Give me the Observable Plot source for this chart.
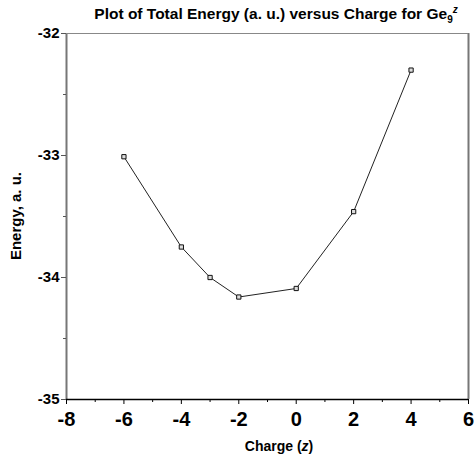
<!DOCTYPE html>
<html>
<head>
<meta charset="utf-8">
<script src="https://cdn.jsdelivr.net/npm/d3@7"></script>
<script src="https://cdn.jsdelivr.net/npm/@observablehq/plot@0.6"></script>
<style>
  body { margin: 0; background: #fff; font-family: "Liberation Sans", Arial, sans-serif; }
  #wrap { position: relative; width: 474px; height: 456px; overflow: hidden; }
  #title { position: absolute; left: 70px; width: 412px; top: 5px; text-align: center; z-index: 2;
           font-weight: bold; font-size: 15.5px; line-height: 18px; color: #000; white-space: nowrap; }
  #title sub, #title sup { font-size: 10px; line-height: 0; }
  #chart { position: absolute; left: 0; top: 0; }
</style>
</head>
<body>
<div id="wrap">
  <div id="chart"></div>
  <div id="title">Plot of Total Energy (a. u.) versus Charge for Ge<sub>9</sub><sup><i>z</i></sup></div>
</div>
<script>
const charge = [-6, -4, -3, -2, 0, 2, 4];
const energy = [-33.01, -33.75, -34.00, -34.16, -34.09, -33.46, -32.30];
const xTicks = [-8, -6, -4, -2, 0, 2, 4, 6];
const xMinor = [-7, -5, -3, -1, 1, 3, 5];
const yTicks = [-35, -34, -33, -32];
const yMinor = [-34.5, -33.5, -32.5];
const xLabel = "Charge (";
const xLabelVar = "z";
const yLabel = "Energy, a. u.";

const data = charge.map((c, i) => ({charge: c, energy: energy[i]}));

const W = 474, H = 456, mL = 66, mR = 6, mT = 33, mB = 57;

const svg = Plot.plot({
  width: W, height: H,
  marginLeft: mL, marginRight: mR, marginTop: mT, marginBottom: mB,
  style: {fontFamily: '"Liberation Sans", Arial, sans-serif', background: "#fff", color: "#000"},
  x: {domain: [-8, 6]},
  y: {domain: [-35, -32]},
  marks: [
    Plot.ruleX([-8, 6], {stroke: "#777", strokeWidth: 2}),
    Plot.ruleY([-32], {stroke: "#888", strokeWidth: 1}),
    Plot.axisY({ticks: yTicks, tickSize: 5, tickPadding: 2, fontSize: 15, fontWeight: "bold", label: null, stroke: "#555", tickFormat: d => String(d)}),
    Plot.axisY({ticks: yMinor, tickSize: 3, text: null, label: null, stroke: "#555"}),
    Plot.axisX({ticks: xTicks, tickSize: 5, tickPadding: 7, fontSize: 20, fontWeight: "bold", label: null, tickFormat: d => String(d)}),
    Plot.axisX({ticks: xMinor, tickSize: 3, text: null, label: null}),
    Plot.ruleY([-35], {stroke: "#000", strokeWidth: 1.5}),
    Plot.line(data, {x: "charge", y: "energy", stroke: "#222", strokeWidth: 1}),
    Plot.dot(data, {x: "charge", y: "energy", symbol: "square", r: 2.4, fill: "#ddd", stroke: "#111", strokeWidth: 1})
  ]
});

const s = d3.select(svg);
const xl = s.append("text")
  .attr("x", 279).attr("y", H - 5)
  .attr("text-anchor", "middle")
  .attr("font-size", 14).attr("font-weight", "bold").attr("fill", "#000");
xl.append("tspan").text(xLabel);
xl.append("tspan").attr("font-style", "italic").text(xLabelVar);
xl.append("tspan").text(")");

s.append("text")
  .attr("transform", `translate(21,${mT + (H - mT - mB) / 2}) rotate(-90)`)
  .attr("text-anchor", "middle")
  .attr("font-size", 15).attr("font-weight", "bold").attr("fill", "#000")
  .text(yLabel);

document.getElementById("chart").appendChild(svg);
</script>
</body>
</html>
